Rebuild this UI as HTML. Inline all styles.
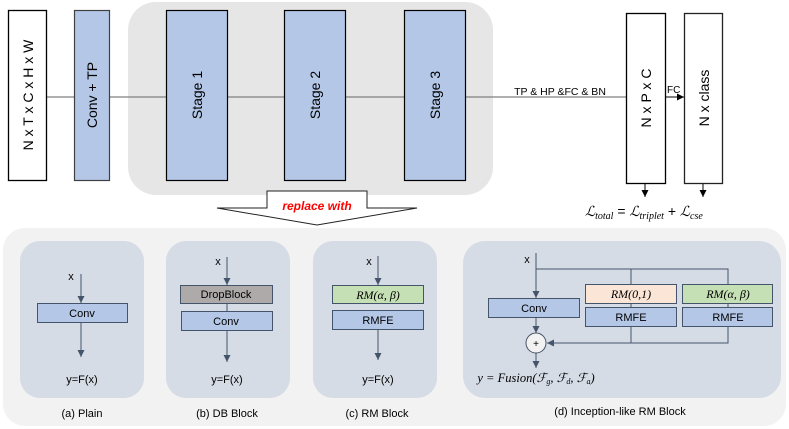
<!DOCTYPE html>
<html><head><meta charset="utf-8"><style>
html,body{margin:0;padding:0;background:#fff;}
svg{display:block;}
text{font-family:"Liberation Sans",sans-serif;}
.m{font-family:"Liberation Serif",serif;font-style:italic;}
</style></head><body>
<svg width="789" height="429" viewBox="0 0 789 429" xmlns="http://www.w3.org/2000/svg">
<defs>
<marker id="a" markerWidth="8" markerHeight="8" refX="7" refY="4" orient="auto" markerUnits="userSpaceOnUse"><path d="M0,0.5 L7,4 L0,7.5z" fill="#44546a"/></marker>
<marker id="k" markerWidth="8" markerHeight="8" refX="7" refY="4" orient="auto" markerUnits="userSpaceOnUse"><path d="M0,0.5 L7,4 L0,7.5z" fill="#000"/></marker>
</defs>
<!-- top -->
<rect x="128" y="2" width="365" height="193" rx="28" fill="#e6e6e6"/>
<line x1="46" y1="97" x2="626" y2="97" stroke="#808080" stroke-width="1.3"/>
<rect x="8.5" y="10.5" width="38" height="170" fill="#fff" stroke="#000" stroke-width="1.3"/>
<text transform="translate(33,95) rotate(-90)" text-anchor="middle" font-size="14">N x T x C x H x W</text>
<rect x="74.5" y="10.5" width="35" height="170" fill="#b4c7e7" stroke="#404040" stroke-width="1.2"/>
<text transform="translate(97,95) rotate(-90)" text-anchor="middle" font-size="14">Conv + TP</text>
<rect x="166.5" y="10.5" width="61" height="170" fill="#b4c7e7" stroke="#000" stroke-width="1.2"/>
<text transform="translate(202,95) rotate(-90)" text-anchor="middle" font-size="14">Stage 1</text>
<rect x="284.5" y="10.5" width="61" height="170" fill="#b4c7e7" stroke="#000" stroke-width="1.2"/>
<text transform="translate(320,95) rotate(-90)" text-anchor="middle" font-size="14">Stage 2</text>
<rect x="404.5" y="10.5" width="61" height="170" fill="#b4c7e7" stroke="#000" stroke-width="1.2"/>
<text transform="translate(440,95) rotate(-90)" text-anchor="middle" font-size="14">Stage 3</text>
<text x="560" y="95" text-anchor="middle" font-size="10.5">TP &amp; HP &amp;FC &amp; BN</text>
<rect x="626.5" y="13.5" width="39" height="170" fill="#fff" stroke="#000" stroke-width="1.3"/>
<text transform="translate(651,98) rotate(-90)" text-anchor="middle" font-size="14">N x P x C</text>
<rect x="684.5" y="13.5" width="38" height="170" fill="#fff" stroke="#222" stroke-width="1.3"/>
<text transform="translate(709,98) rotate(-90)" text-anchor="middle" font-size="14">N x class</text>
<line x1="665" y1="97" x2="684" y2="97" stroke="#000" marker-end="url(#k)"/>
<text x="667" y="93" font-size="10">FC</text>
<line x1="645" y1="184" x2="645" y2="197" stroke="#000" marker-end="url(#k)"/>
<line x1="703" y1="184" x2="703" y2="197" stroke="#000" marker-end="url(#k)"/>
<text x="585" y="216" font-size="14"><tspan class="m">ℒ</tspan><tspan class="m" font-size="10" dy="3">total</tspan><tspan dy="-3"> = </tspan><tspan class="m">ℒ</tspan><tspan class="m" font-size="10" dy="3">triplet</tspan><tspan dy="-3"> + </tspan><tspan class="m">ℒ</tspan><tspan class="m" font-size="10" dy="3">cse</tspan></text>
<!-- bottom panel -->
<rect x="3" y="228" width="783" height="198" rx="22" fill="#f2f2f2"/>
<!-- replace arrow -->
<path d="M267,191 H367 V208 H417 L317,225 L217,208 H267Z" fill="#fff" stroke="#222" stroke-width="1"/>
<text x="317" y="210" text-anchor="middle" font-size="12" font-weight="bold" font-style="italic" fill="#ff0000">replace with</text>
<g fill="#d6dce5">
<rect x="20" y="241" width="124" height="157" rx="20"/>
<rect x="166" y="241" width="124" height="157" rx="20"/>
<rect x="313" y="241" width="124" height="157" rx="20"/>
<rect x="463" y="241" width="318" height="157" rx="22"/>
</g>
<g font-size="11" text-anchor="middle">
<!-- a -->
<text x="71" y="280">x</text>
<line x1="81" y1="274" x2="81" y2="303" stroke="#44546a" marker-end="url(#a)"/>
<rect x="37.5" y="303.5" width="90" height="19" fill="#b4c7e7" stroke="#44546a"/>
<text x="82" y="317">Conv</text>
<line x1="81" y1="323" x2="81" y2="357" stroke="#44546a" marker-end="url(#a)"/>
<text x="82" y="383">y=F(x)</text>
<text x="82" y="417">(a) Plain</text>
<!-- b -->
<text x="218" y="265">x</text>
<line x1="227" y1="257" x2="227" y2="285" stroke="#44546a" marker-end="url(#a)"/>
<rect x="180.5" y="285.5" width="92" height="18" fill="#aeaaaa" stroke="#44546a"/>
<text x="226" y="298">DropBlock</text>
<line x1="227" y1="304" x2="227" y2="311" stroke="#44546a"/>
<rect x="181.5" y="311.5" width="91" height="19" fill="#b4c7e7" stroke="#44546a"/>
<text x="226" y="325">Conv</text>
<line x1="227" y1="331" x2="227" y2="362" stroke="#44546a" marker-end="url(#a)"/>
<text x="227" y="383">y=F(x)</text>
<text x="227" y="417">(b) DB Block</text>
<!-- c -->
<text x="369" y="265">x</text>
<line x1="378" y1="256" x2="378" y2="285" stroke="#44546a" marker-end="url(#a)"/>
<rect x="332.5" y="285.5" width="91" height="18" fill="#c5e0b4" stroke="#44546a"/>
<text x="378" y="299" class="m" font-size="12">RM(α, β)</text>
<rect x="332.5" y="310.5" width="91" height="19" fill="#b4c7e7" stroke="#44546a"/>
<text x="378" y="324">RMFE</text>
<line x1="378" y1="330" x2="378" y2="360" stroke="#44546a" marker-end="url(#a)"/>
<text x="378" y="383">y=F(x)</text>
<text x="377" y="417">(c) RM Block</text>
<!-- d -->
<text x="527" y="263">x</text>
<path d="M536,253 V269 H728 V284 M631,269 V284" fill="none" stroke="#44546a"/>
<line x1="536" y1="269" x2="536" y2="298" stroke="#44546a" marker-end="url(#a)"/>
<rect x="488.5" y="298.5" width="91" height="19" fill="#b4c7e7" stroke="#44546a"/>
<text x="534" y="312">Conv</text>
<rect x="585.5" y="284.5" width="91" height="19" fill="#fbe5d6" stroke="#44546a"/>
<text x="631" y="298" class="m" font-size="12">RM(0,1)</text>
<rect x="585.5" y="307.5" width="91" height="19" fill="#b4c7e7" stroke="#44546a"/>
<text x="631" y="321">RMFE</text>
<rect x="682.5" y="284.5" width="90" height="19" fill="#c5e0b4" stroke="#44546a"/>
<text x="728" y="298" class="m" font-size="12">RM(α, β)</text>
<rect x="682.5" y="307.5" width="90" height="19" fill="#b4c7e7" stroke="#44546a"/>
<text x="728" y="321">RMFE</text>
<line x1="631" y1="303" x2="631" y2="307" stroke="#44546a"/>
<line x1="728" y1="303" x2="728" y2="307" stroke="#44546a"/>
<path d="M631,327 V343 M728,327 V343 H547" fill="none" stroke="#44546a" marker-end="url(#a)"/>
<line x1="631" y1="327" x2="631" y2="343" stroke="#44546a"/>
<line x1="536" y1="318" x2="536" y2="333" stroke="#44546a" marker-end="url(#a)"/>
<circle cx="536" cy="343" r="10" fill="#f2f2f2" stroke="#44546a"/>
<text x="536" y="347" font-size="10">+</text>
<line x1="536" y1="353" x2="536" y2="368" stroke="#44546a" marker-end="url(#a)"/>
<text x="536" y="382" class="m" font-size="12.5">y = Fusion(ℱ<tspan font-size="8" dy="2">g</tspan><tspan dy="-2">, ℱ</tspan><tspan font-size="8" dy="2">d</tspan><tspan dy="-2">, ℱ</tspan><tspan font-size="8" dy="2">a</tspan><tspan dy="-2">)</tspan></text>
<text x="620" y="415">(d) Inception-like RM Block</text>
</g>
</svg>
</body></html>
